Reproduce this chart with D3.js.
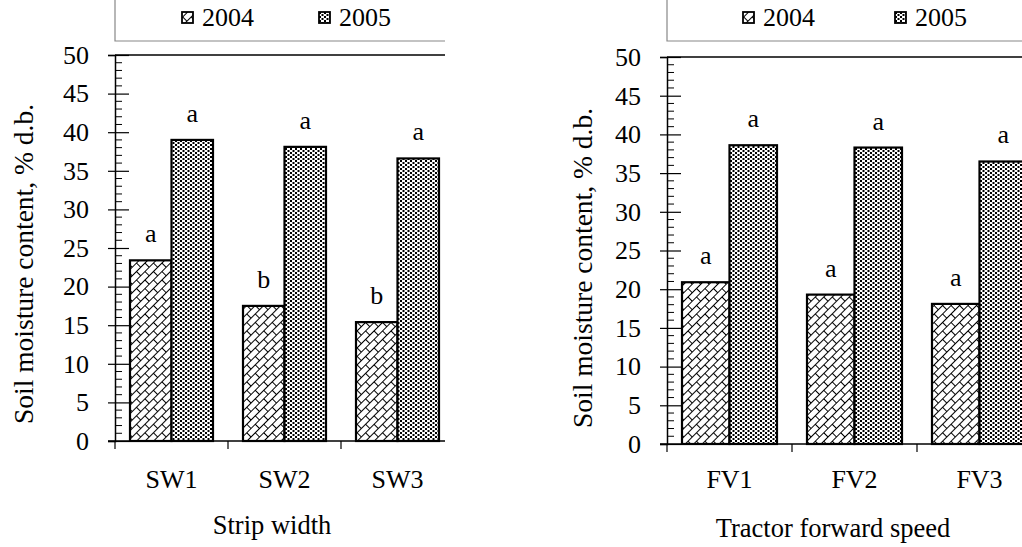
<!DOCTYPE html>
<html>
<head>
<meta charset="utf-8">
<script src="https://cdn.jsdelivr.net/npm/d3@7"></script>
<style>
  body { margin: 0; background: #fff; }
  svg text { font-family: "Liberation Serif", "Times New Roman", serif; fill: #000; }
</style>
</head>
<body>
<svg id="chart" width="1022" height="547"></svg>
<script>
var years = ["2004", "2005"];

var swCategories = ["SW1", "SW2", "SW3"];
var sw2004 = [23.4, 17.5, 15.4];
var sw2005 = [39.0, 38.1, 36.6];
var swLetters2004 = ["a", "b", "b"];
var swLetters2005 = ["a", "a", "a"];

var fvCategories = ["FV1", "FV2", "FV3"];
var fv2004 = [20.9, 19.3, 18.1];
var fv2005 = [38.6, 38.3, 36.5];
var fvLetters2004 = ["a", "a", "a"];
var fvLetters2005 = ["a", "a", "a"];

var yTicks = [0, 5, 10, 15, 20, 25, 30, 35, 40, 45, 50];

var svg = d3.select("#chart");
var defs = svg.append("defs");

// brick diagonal pattern for 2004
var brick = defs.append("pattern")
  .attr("id", "brick")
  .attr("patternUnits", "userSpaceOnUse")
  .attr("width", 12).attr("height", 12)
  .attr("patternTransform", "rotate(-45)");
brick.append("rect").attr("width", 12).attr("height", 12).attr("fill", "#fff");
brick.append("path")
  .attr("d", "M0,0.5H12M0,6.5H12M0.5,0V6.5M6.5,6.5V12")
  .attr("stroke", "#000").attr("stroke-width", 1).attr("fill", "none");

// dot pattern for 2005
var dots = defs.append("pattern")
  .attr("id", "dots")
  .attr("patternUnits", "userSpaceOnUse")
  .attr("width", 5).attr("height", 4);
dots.append("rect").attr("width", 5).attr("height", 4).attr("fill", "#fff");
dots.append("rect").attr("x", 0).attr("y", 0).attr("width", 2).attr("height", 2).attr("fill", "#000");
dots.append("rect").attr("x", 2.5).attr("y", 2).attr("width", 2).attr("height", 2).attr("fill", "#000");

var fills = ["url(#brick)", "url(#dots)"];

function drawPanel(cfg) {
  var g = svg.append("g");

  var x = d3.scaleBand()
    .domain(cfg.categories)
    .range([cfg.left, cfg.left + cfg.band * cfg.categories.length]);
  var y = d3.scaleLinear().domain([0, 50]).range([cfg.bottom, cfg.top]);

  var barW = (cfg.band - 30) / 2;

  // legend frame
  g.append("path")
    .attr("d", "M" + cfg.left + ",0V" + cfg.legendY + "H" + cfg.right)
    .attr("stroke", "#888").attr("fill", "none").attr("stroke-width", 1.2);

  var legend = g.selectAll("g.leg")
    .data(years)
    .enter().append("g")
    .attr("transform", function(d, i) { return "translate(" + cfg.legendX[i] + ",0)"; });
  legend.append("rect")
    .attr("x", 0).attr("y", 12).attr("width", 11).attr("height", 11)
    .attr("fill", function(d, i) { return fills[i]; })
    .attr("stroke", "#000").attr("stroke-width", 1.8);
  legend.append("text")
    .attr("x", 20).attr("y", 26)
    .style("font-size", "26px")
    .text(function(d) { return d; });

  // top frame line
  g.append("line")
    .attr("x1", cfg.left).attr("x2", cfg.right)
    .attr("y1", y(50)).attr("y2", y(50))
    .attr("stroke", "#000").attr("stroke-width", 1.5);

  // bars
  var series = [cfg.v2004, cfg.v2005];
  var letters = [cfg.l2004, cfg.l2005];
  series.forEach(function(vals, s) {
    g.selectAll("rect.s" + s)
      .data(vals)
      .enter().append("rect")
      .attr("x", function(d, i) { return x(cfg.categories[i]) + 15 + s * barW; })
      .attr("y", function(d) { return y(d); })
      .attr("width", barW)
      .attr("height", function(d) { return y(0) - y(d); })
      .attr("fill", fills[s])
      .attr("stroke", "#000")
      .attr("stroke-width", 2.2);
    g.selectAll("text.l" + s)
      .data(vals)
      .enter().append("text")
      .attr("x", function(d, i) { return x(cfg.categories[i]) + 15 + s * barW + barW / 2; })
      .attr("y", function(d) { return y(d) - 18; })
      .attr("text-anchor", "middle")
      .style("font-size", "26px")
      .text(function(d, i) { return letters[s][i]; });
  });

  // y axis: major ticks
  var yAxis = d3.axisLeft(y).tickValues(yTicks).tickSize(7).tickPadding(19);
  var ya = g.append("g").attr("transform", "translate(" + cfg.left + ",0)").call(yAxis);
  ya.attr("font-family", null);
  ya.select(".domain").attr("stroke-width", 1.5);
  ya.selectAll(".tick line").attr("x2", 14).attr("x1", -7).attr("stroke-width", 1.2);
  ya.selectAll(".tick text").style("font-size", "26px");

  // minor ticks
  g.selectAll("line.minor")
    .data(d3.range(0, 51).filter(function(d) { return d % 5 !== 0; }))
    .enter().append("line")
    .attr("x1", cfg.left).attr("x2", cfg.left + 7)
    .attr("y1", function(d) { return y(d); })
    .attr("y2", function(d) { return y(d); })
    .attr("stroke", "#000").attr("stroke-width", 1);

  // x axis baseline and category ticks
  g.append("line")
    .attr("x1", cfg.left - 7).attr("x2", cfg.right)
    .attr("y1", y(0)).attr("y2", y(0))
    .attr("stroke", "#000").attr("stroke-width", 1.5);
  g.selectAll("line.ctick")
    .data(cfg.categories)
    .enter().append("line")
    .attr("x1", function(d) { return x(d); })
    .attr("x2", function(d) { return x(d); })
    .attr("y1", y(0)).attr("y2", y(0) + 8)
    .attr("stroke", "#000").attr("stroke-width", 1.2);
  g.selectAll("text.cat")
    .data(cfg.categories)
    .enter().append("text")
    .attr("x", function(d) { return x(d) + x.bandwidth() / 2; })
    .attr("y", 488)
    .attr("text-anchor", "middle")
    .style("font-size", "26px")
    .text(function(d) { return d; });

  // axis titles
  g.append("text")
    .attr("x", cfg.xTitleX).attr("y", cfg.xTitleY)
    .attr("text-anchor", "middle")
    .style("font-size", "26.5px")
    .text(cfg.xTitle);
  g.append("text")
    .attr("transform", "translate(" + cfg.yTitleX + "," + cfg.yTitleY + ") rotate(-90)")
    .attr("text-anchor", "middle")
    .style("font-size", "27.5px")
    .text("Soil moisture content, % d.b.");
}

drawPanel({
  categories: swCategories, v2004: sw2004, v2005: sw2005,
  l2004: swLetters2004, l2005: swLetters2005,
  left: 115, band: 113, right: 445, top: 55, bottom: 441,
  legendY: 41, legendX: [182, 319],
  xTitle: "Strip width", xTitleX: 272, xTitleY: 534,
  yTitleX: 33, yTitleY: 264
});

drawPanel({
  categories: fvCategories, v2004: fv2004, v2005: fv2005,
  l2004: fvLetters2004, l2005: fvLetters2005,
  left: 667, band: 125, right: 1022, top: 57, bottom: 444,
  legendY: 41, legendX: [743, 895],
  xTitle: "Tractor forward speed", xTitleX: 833, xTitleY: 537,
  yTitleX: 592, yTitleY: 268
});
</script>
</body>
</html>
